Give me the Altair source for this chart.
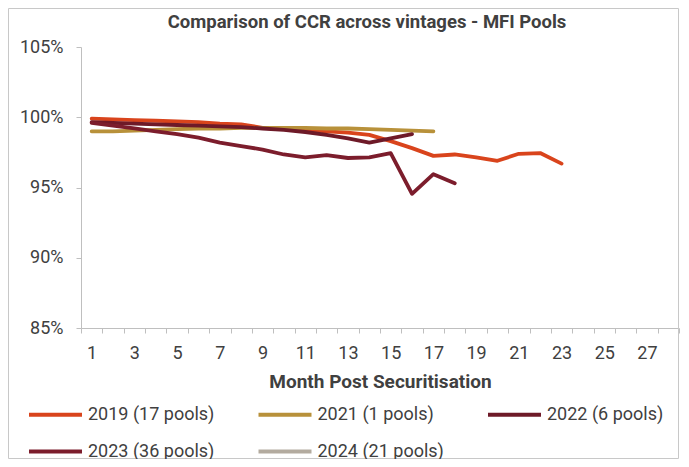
import altair as alt
import pandas as pd

months = list(range(1, 29))
series_names = ["2019 (17 pools)", "2021 (1 pools)", "2022 (6 pools)", "2023 (36 pools)", "2024 (21 pools)"]
series_colors = ["#D9441C", "#B8913A", "#6E1A28", "#7C1D2C", "#B3AB9F"]
chart_title = "Comparison of CCR across vintages - MFI Pools"

ccr_2019 = [99.9, 99.85, 99.8, 99.75, 99.7, 99.65, 99.55, 99.5, 99.25, 99.15, 99.1, 99.0, 98.9,
            98.75, 98.3, 97.8, 97.25, 97.35, 97.15, 96.9, 97.4, 97.45, 96.7]
ccr_2021 = [99.0, 99.0, 99.05, 99.1, 99.15, 99.2, 99.2, 99.25, 99.25, 99.25, 99.25, 99.2, 99.2,
            99.15, 99.1, 99.05, 99.0]
ccr_2022 = [99.65, 99.6, 99.55, 99.5, 99.45, 99.4, 99.35, 99.3, 99.2, 99.1, 98.95, 98.75, 98.5,
            98.2, 98.5, 98.8]
ccr_2023 = [99.6, 99.4, 99.2, 99.0, 98.8, 98.55, 98.2, 97.95, 97.7, 97.35, 97.15, 97.3, 97.1,
            97.15, 97.45, 94.55, 95.95, 95.3]
ccr_2024 = []

all_series = [ccr_2019, ccr_2021, ccr_2022, ccr_2023, ccr_2024]
rows = []
for name, vals in zip(series_names, all_series):
    for i, v in enumerate(vals):
        rows.append({"month": months[i], "series": name, "ccr": v / 100.0})
df = pd.DataFrame(rows)

FONT = "Roboto"
TXT = "#404040"
AX = "#BFBFBF"

lines = alt.Chart(df).mark_line(strokeWidth=3.8, strokeCap="round", strokeJoin="round").encode(
    x=alt.X("month:O", bandPosition=0.5,
            scale=alt.Scale(type="band", domain=months, paddingInner=0, paddingOuter=0),
            axis=alt.Axis(title="Month Post Securitisation", labelAngle=0, tickBand="extent",
                          labelExpr="datum.value % 2 == 1 ? datum.label : ''",
                          domainColor=AX, tickColor=AX, tickSize=5, grid=False,
                          labelFontSize=18, labelColor=TXT, labelPadding=11,
                          titleFontSize=19, titleFontWeight="bold", titleColor=TXT, titlePadding=10)),
    y=alt.Y("ccr:Q",
            scale=alt.Scale(domain=[0.85, 1.05], nice=False, zero=False),
            axis=alt.Axis(values=[0.85, 0.90, 0.95, 1.00, 1.05], format=".0%", title=None, grid=False,
                          domainColor=AX, tickColor=AX, tickSize=5,
                          labelFontSize=18, labelColor=TXT, labelPadding=13)),
    color=alt.Color("series:N",
                    scale=alt.Scale(domain=series_names, range=series_colors),
                    legend=alt.Legend(title=None, orient="none", legendX=-41, legendY=352,
                                      columns=3, direction="horizontal", symbolType="M-2,0L2,0",
                                      symbolStrokeWidth=4, symbolSize=702, labelFontSize=18,
                                      labelColor=TXT, gridAlign="all", columnPadding=35.5,
                                      rowPadding=12, padding=0, labelOffset=17)),
    order=alt.Order("month:O"),
)

title_text = alt.Chart(pd.DataFrame({"t": [chart_title]})).mark_text(
    fontSize=18.5, fontWeight="bold", color=TXT, align="center", baseline="middle"
).encode(text="t:N", x=alt.value(286), y=alt.value(-25))

border = alt.Chart(pd.DataFrame({"a": [0]})).mark_rect(fill=None, stroke="#C8C8C8", strokeWidth=1).encode(
    x=alt.value(-72.5), x2=alt.value(597.5), y=alt.value(-38.5), y2=alt.value(411.5)
)

chart = alt.layer(border, title_text, lines).properties(
    width=598, height=281, autosize="none",
    padding={"left": 73, "top": 39, "right": 2, "bottom": 131},
).configure(font=FONT).configure_view(stroke=None)

chart.save("out.html", embed_options={"renderer": "svg", "actions": False})
